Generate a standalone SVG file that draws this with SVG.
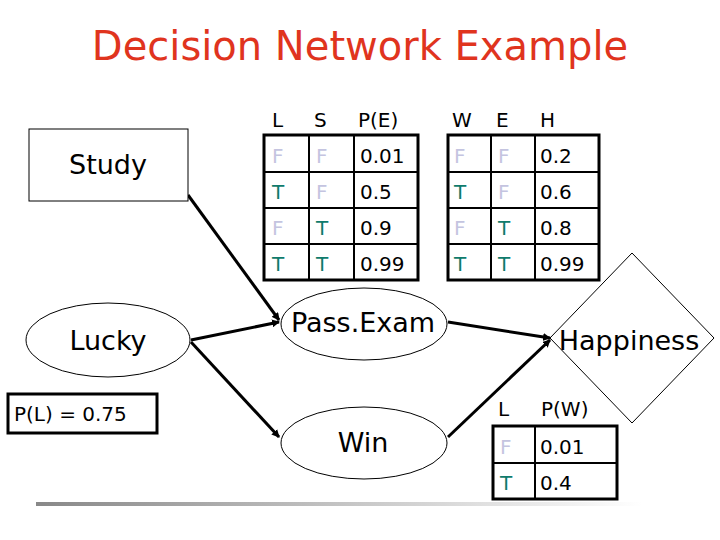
<svg xmlns="http://www.w3.org/2000/svg" width="720" height="540" viewBox="0 0 720 540">
<style>
.n{fill:#fff;stroke:#000;stroke-width:1}
.lbl{font-family:"DejaVu Sans",sans-serif;font-size:27px;fill:#000;text-anchor:middle}
.t{font-family:"DejaVu Sans",sans-serif;font-size:20px;fill:#000}
.f{fill:#c4c4e0}.tt{fill:#0f7b6c}
.tb{fill:none;stroke:#000;stroke-width:3}
.g{stroke:#000;stroke-width:2}
.c{stroke:#000;stroke-width:3;fill:none;marker-end:url(#a)}
</style>
<defs>
<marker id="a" markerWidth="8" markerHeight="8" refX="7" refY="4" orient="auto" markerUnits="userSpaceOnUse" viewBox="0 0 8 8"><path d="M0,0L8,4L0,8z" fill="#000"/></marker>
<linearGradient id="gl" x1="0" x2="1"><stop offset="0" stop-color="#888"/><stop offset="1" stop-color="#fff"/></linearGradient>
</defs>
<rect width="720" height="540" fill="#fff"/>
<text x="360" y="60" text-anchor="middle" font-family="'Comic Sans MS','DejaVu Sans',sans-serif" font-size="40" fill="#e0341e">Decision Network Example</text>
<g id="connectors">
<line class="c" x1="188" y1="195" x2="279" y2="320"/>
<line class="c" x1="191" y1="340" x2="279" y2="322"/>
<line class="c" x1="191" y1="342" x2="279" y2="437"/>
<line class="c" x1="448" y1="322" x2="550" y2="338"/>
<line class="c" x1="448" y1="437" x2="550" y2="340"/>
</g>
<g id="study"><rect class="n" x="29" y="129" width="159" height="72"/><text class="lbl" x="108" y="174">Study</text></g>
<g id="lucky"><ellipse class="n" cx="108" cy="340" rx="82" ry="37"/><text class="lbl" x="108" y="350">Lucky</text></g>
<g id="pl"><rect x="8" y="394" width="149" height="39" fill="#fff" stroke="#000" stroke-width="3"/><text class="t" x="14" y="421">P(L) = 0.75</text></g>
<g id="passexam"><ellipse class="n" cx="364" cy="324" rx="83" ry="36"/><text class="lbl" x="363" y="332">Pass.Exam</text></g>
<g id="win"><ellipse class="n" cx="364" cy="443" rx="83" ry="36"/><text class="lbl" x="363" y="452">Win</text></g>
<g id="happiness"><path class="n" d="M632,253L714,338L632,423L550,338Z"/><text class="lbl" x="629" y="350">Happiness</text></g>
<g id="cpt-e">
<text class="t" x="272" y="127">L</text><text class="t" x="314" y="127">S</text><text class="t" x="358" y="127">P(E)</text>
<rect class="tb" x="264" y="135" width="154" height="145"/>
<line class="g" x1="309" y1="135" x2="309" y2="280"/><line class="g" x1="354" y1="135" x2="354" y2="280"/>
<line class="g" x1="264" y1="172" x2="418" y2="172"/><line class="g" x1="264" y1="208" x2="418" y2="208"/><line class="g" x1="264" y1="244" x2="418" y2="244"/>
<text class="t f" x="272" y="163">F</text><text class="t f" x="316" y="163">F</text><text class="t" x="360" y="163">0.01</text>
<text class="t tt" x="272" y="199">T</text><text class="t f" x="316" y="199">F</text><text class="t" x="360" y="199">0.5</text>
<text class="t f" x="272" y="235">F</text><text class="t tt" x="316" y="235">T</text><text class="t" x="360" y="235">0.9</text>
<text class="t tt" x="272" y="271">T</text><text class="t tt" x="316" y="271">T</text><text class="t" x="360" y="271">0.99</text>
</g>
<g id="cpt-h">
<text class="t" x="452" y="127">W</text><text class="t" x="496" y="127">E</text><text class="t" x="540" y="127">H</text>
<rect class="tb" x="448" y="135" width="151" height="145"/>
<line class="g" x1="491" y1="135" x2="491" y2="280"/><line class="g" x1="535" y1="135" x2="535" y2="280"/>
<line class="g" x1="448" y1="172" x2="599" y2="172"/><line class="g" x1="448" y1="208" x2="599" y2="208"/><line class="g" x1="448" y1="244" x2="599" y2="244"/>
<text class="t f" x="454" y="163">F</text><text class="t f" x="498" y="163">F</text><text class="t" x="540" y="163">0.2</text>
<text class="t tt" x="454" y="199">T</text><text class="t f" x="498" y="199">F</text><text class="t" x="540" y="199">0.6</text>
<text class="t f" x="454" y="235">F</text><text class="t tt" x="498" y="235">T</text><text class="t" x="540" y="235">0.8</text>
<text class="t tt" x="454" y="271">T</text><text class="t tt" x="498" y="271">T</text><text class="t" x="540" y="271">0.99</text>
</g>
<g id="cpt-w">
<text class="t" x="498" y="416">L</text><text class="t" x="541" y="416">P(W)</text>
<rect class="tb" x="493" y="426" width="124" height="73"/>
<line class="g" x1="535" y1="426" x2="535" y2="499"/><line class="g" x1="493" y1="463" x2="617" y2="463"/>
<text class="t f" x="500" y="454">F</text><text class="t" x="540" y="454">0.01</text>
<text class="t tt" x="500" y="490">T</text><text class="t" x="540" y="490">0.4</text>
</g>
<rect x="36" y="502" width="606" height="4" fill="url(#gl)"/>
</svg>
